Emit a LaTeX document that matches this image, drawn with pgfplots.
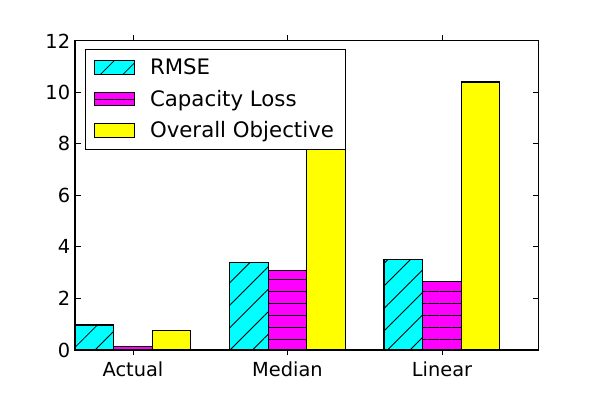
\documentclass[border=0pt]{standalone}
\usepackage{pgfplots}
\pgfplotsset{compat=1.18}
\usepackage{fontspec}
\setmainfont{DejaVu Sans}
\usetikzlibrary{patterns.meta}
\definecolor{mcyan}{RGB}{0,255,255}
\definecolor{mmagenta}{RGB}{255,0,255}
\definecolor{myellow}{RGB}{255,255,0}
\begin{document}
\begin{tikzpicture}
\path[use as bounding box] (-54.2pt,-36.1pt) rectangle (379.4pt,252.9pt);
\begin{axis}[
  at={(0pt,0pt)}, anchor=south west,
  scale only axis, width=335pt, height=223.4pt,
  xmin=-0.375, xmax=2.625, ymin=0, ymax=12,
  xtick={0,1,2}, xticklabels={Actual,Median,Linear},
  ytick={0,2,4,6,8,10,12},
  tick align=inside, tick pos=both,
  major tick length=4pt,
  every tick/.style={black, line width=0.6pt},
  axis line style={line width=0.8pt},
  /pgf/number format/assume math mode=true,
  tick label style={font=\fontsize{14}{16}\selectfont},
  xticklabel style={yshift=-1pt},
  ybar, bar width=0.25,
  legend style={at={(0.0215,0.975)}, anchor=north west, draw=black, line width=0.6pt,
    font=\fontsize{15.4}{17}\selectfont, row sep=5.6pt, inner xsep=6pt, inner ysep=5pt,
    cells={anchor=west}},
  legend image code/.code={\draw[#1, line width=0.6pt] (0pt,-5pt) rectangle (29pt,5pt);
    \path (38pt,0pt);},
]
\addplot[bar shift=-0.25, fill=mcyan, draw=black, line width=0.8pt,
  postaction={pattern={Lines[angle=45,distance=11.5pt,line width=0.6pt]}, pattern color=black}]
  coordinates {(0,0.97) (1,3.40) (2,3.50)};
\addlegendentry{RMSE}
\addplot[bar shift=0, fill=mmagenta, draw=black, line width=0.8pt,
  postaction={pattern={Lines[angle=0,distance=8.7pt,line width=0.6pt]}, pattern color=black}]
  coordinates {(0,0.14) (1,3.09) (2,2.66)};
\addlegendentry{Capacity Loss}
\addplot[bar shift=0.25, fill=myellow, draw=black, line width=0.8pt]
  coordinates {(0,0.76) (1,9.91) (2,10.40)};
\addlegendentry{Overall Objective}
\end{axis}
\end{tikzpicture}
\end{document}
